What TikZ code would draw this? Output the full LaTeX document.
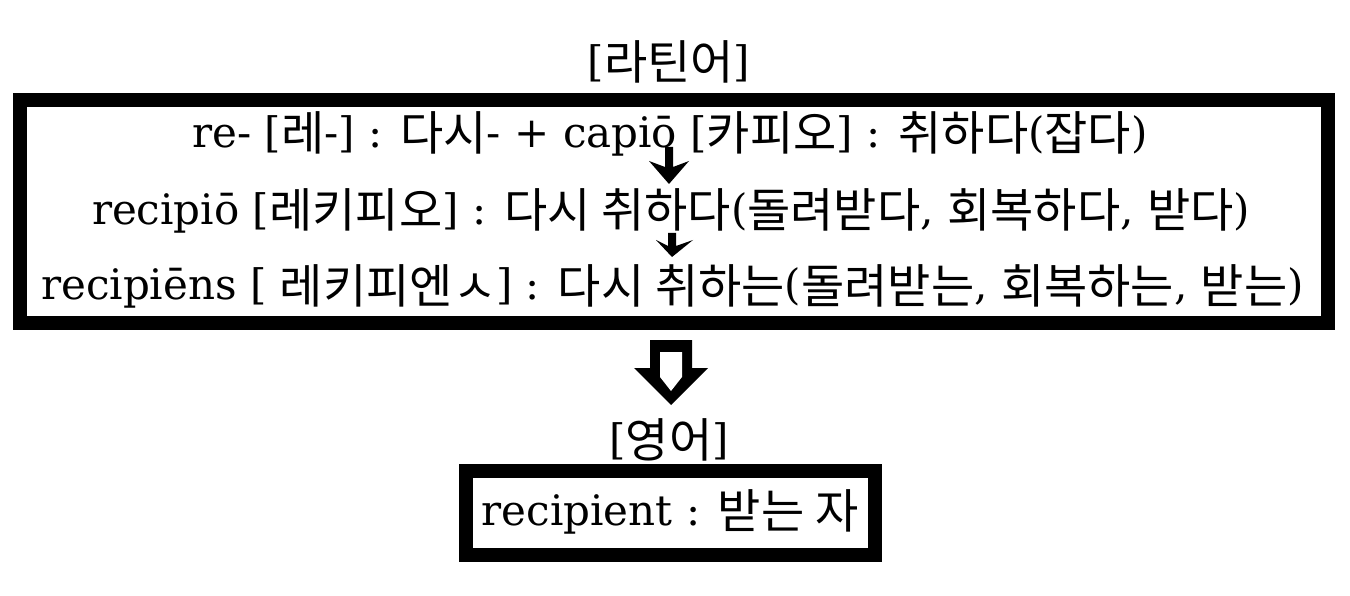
\documentclass[tikz,border=0pt]{standalone}
\usepackage{fontspec}
\setmainfont{DejaVu Serif}
\newfontfamily\kr[Scale=1.12]{Noto Sans CJK KR}
\newcommand\K[1]{\raisebox{-3pt}{\kr #1}}
\begin{document}
\begin{tikzpicture}[x=1pt,y=-1pt,
  box/.style={draw=black, line width=14pt, inner sep=0pt, fill=white},
  txt/.style={font=\fontsize{42}{50}\selectfont, inner sep=0pt, anchor=base},
  arrowfill/.style={fill=black}]
\useasboundingbox[fill=white] (0,0) rectangle (1350,596);
\node[box, minimum width=1308pt, minimum height=223pt] (bigbox) at (674,211.5) {};
\node[box, minimum width=409pt, minimum height=84pt] (smallbox) at (670.5,513) {};
\node[txt] (la) at (669,77) {[\K{라틴어}]};
\node[txt] (l1) at (670,148) {re- [\K{레}-] : \K{다시}- + capiō [\K{카피오}] : \K{취하다}(\K{잡다})};
\node[txt] (l2) at (671,225) {recipiō [\K{레키피오}] : \K{다시 취하다}(\K{돌려받다}, \K{회복하다}, \K{받다})};
\node[txt] (l3) at (672.5,300) {recipiēns [ \K{레키피엔ㅅ}] : \K{다시 취하는}(\K{돌려받는}, \K{회복하는}, \K{받는})};
\node[txt] (en) at (669,454) {[\K{영어}]};
\node[txt] (rc) at (670,525) {recipient : \K{받는 자}};
% small arrows
\fill[arrowfill] (665,147) -- (673,147) -- (673,167) -- (689,161) -- (669,184) -- (649,161) -- (665,167) -- cycle;
\fill[arrowfill] (668,233) -- (676,233) -- (676,246) -- (693,240) -- (672,257) -- (656,240) -- (668,246) -- cycle;
% big hollow arrow
\fill[black] (650,340) -- (692,340) -- (692,368) -- (708,368) -- (671,405) -- (634,368) -- (650,368) -- cycle;
\fill[white] (660,352) -- (682,352) -- (682,377) -- (671,391) -- (660,377) -- cycle;
\end{tikzpicture}
\end{document}
